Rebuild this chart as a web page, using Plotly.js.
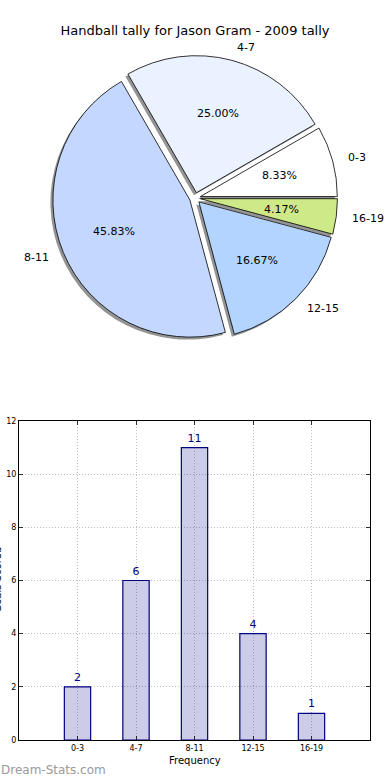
<!DOCTYPE html>
<html>
<head>
<meta charset="utf-8">
<script src="https://cdn.plot.ly/plotly-3.0.1.min.js"></script>
<style>
html,body{margin:0;padding:0;background:#fff;}
#chart{width:390px;height:780px;}
</style>
</head>
<body>
<div id="chart"></div>
<script>
// ---- data ----
const categories = ['0-3', '4-7', '8-11', '12-15', '16-19'];
const counts = [2, 6, 11, 4, 1];
const pieColors = ['#ffffff', '#ebf2ff', '#c4d8ff', '#b3d4ff', '#ceea88'];
const pulls = [0.04, 0.04, 0.04, 0.04, 0.04];
const yTicks = [0, 2, 4, 6, 8, 10, 12];
const titleText = 'Handball tally for Jason Gram - 2009 tally';
const xTitle = 'Frequency';
const yTitle = 'Goals Scored';
const watermark = 'Dream-Stats.com';

// ---- layout constants ----
const W = 390, H = 780;
const CX = 195, CY = 198, D = 285;     // pie centre and domain size (px)
const SH = 2.5;                        // shadow offset (px)
const FONT = 'DejaVu Sans, Verdana, sans-serif';

const total = counts.reduce((a, b) => a + b, 0);
// first slice must start at 3 o'clock and run counter-clockwise
const ROT = 90 - 360 * counts[0] / total;

function dom(cx, cy) {
  return {
    x: [(cx - D / 2) / W, (cx + D / 2) / W],
    y: [1 - (cy + D / 2) / H, 1 - (cy - D / 2) / H]
  };
}

const shadowPie = {
  type: 'pie', values: counts, labels: categories, sort: false,
  direction: 'counterclockwise', rotation: ROT, pull: pulls,
  marker: {colors: counts.map(() => 'rgba(0,0,0,0.42)'), line: {width: 0}},
  textinfo: 'none', hoverinfo: 'skip', showlegend: false,
  domain: dom(CX - SH, CY + SH)
};
const mainPie = {
  type: 'pie', values: counts, labels: categories, sort: false,
  direction: 'counterclockwise', rotation: ROT, pull: pulls,
  marker: {colors: pieColors, line: {color: '#000', width: 0.8}},
  textinfo: 'none', showlegend: false,
  domain: dom(CX, CY)
};

const bars = {
  type: 'bar', x: categories, y: counts, width: 0.45,
  marker: {color: 'rgba(0,0,128,0.2)', line: {color: '#000080', width: 1.2}},
  text: counts.map(String), textposition: 'outside', cliponaxis: false,
  textfont: {color: '#000080', size: 11, family: FONT},
  xaxis: 'x', yaxis: 'y', showlegend: false
};

// ---- pie text annotations from the data ----
const maxPull = Math.max(...pulls);
const R = (D / 2) / (1 + maxPull);
const annotations = [];
let cum = 0;
counts.forEach((v, i) => {
  const th = 2 * Math.PI * (cum + v / 2) / total;
  cum += v;
  const p = pulls[i] * R;
  const c = Math.cos(th), s = Math.sin(th);
  const ox = CX + p * c, oy = CY - p * s;
  annotations.push({
    xref: 'paper', yref: 'paper',
    x: (ox + 0.6 * R * c) / W, y: 1 - (oy - 0.6 * R * s) / H,
    text: (v / total * 100).toFixed(2) + '%', showarrow: false,
    xanchor: 'center', yanchor: 'middle',
    font: {family: FONT, size: 11, color: '#000'}
  });
  annotations.push({
    xref: 'paper', yref: 'paper',
    x: (ox + 1.1 * R * c) / W, y: 1 - (oy - 1.1 * R * s) / H,
    text: categories[i], showarrow: false,
    xanchor: c >= 0 ? 'left' : 'right', yanchor: 'middle',
    font: {family: FONT, size: 11, color: '#000'}
  });
});

annotations.push({
  xref: 'paper', yref: 'paper', x: 194.5 / W, y: 1 - 760 / H,
  text: xTitle, showarrow: false, xanchor: 'center', yanchor: 'middle',
  font: {family: FONT, size: 10, color: '#000'}
});
annotations.push({
  xref: 'paper', yref: 'paper', x: 4 / W, y: 1 - 580 / H,
  text: yTitle, showarrow: false, xanchor: 'right', yanchor: 'middle',
  textangle: -90, font: {family: FONT, size: 10, color: '#000'}
});
annotations.push({
  xref: 'paper', yref: 'paper', x: -1 / W, y: 1 - 770 / H,
  text: watermark, showarrow: false, xanchor: 'left', yanchor: 'middle',
  font: {family: FONT, size: 12, color: '#9a9a9a'}
});

const axisCommon = {
  showline: true, linecolor: '#000', linewidth: 1, mirror: 'allticks',
  ticks: 'inside', ticklen: 4, tickcolor: '#000', tickwidth: 0.8,
  showgrid: true, gridcolor: '#bdbdbd', griddash: '1px,2px', gridwidth: 1,
  zeroline: false, tickfont: {family: FONT, size: 8, color: '#000'},
  fixedrange: true
};

const layout = {
  width: W, height: H,
  margin: {l: 0, r: 0, t: 0, b: 0},
  paper_bgcolor: '#fff', plot_bgcolor: '#fff',
  showlegend: false,
  title: {text: titleText, x: 0.5, xanchor: 'center', y: 1 - 30 / H, yanchor: 'middle',
          font: {family: FONT, size: 13, color: '#000'}},
  xaxis: Object.assign({}, axisCommon, {
    type: 'category', range: [-1, 5], domain: [19 / W, 370 / W], anchor: 'y'
  }),
  yaxis: Object.assign({}, axisCommon, {
    range: [0, 12], tickvals: yTicks, domain: [1 - 740 / H, 1 - 421 / H], anchor: 'x'
  }),
  annotations: annotations
};

Plotly.newPlot('chart', [shadowPie, mainPie, bars], layout, {staticPlot: true, displayModeBar: false});
</script>
</body>
</html>
